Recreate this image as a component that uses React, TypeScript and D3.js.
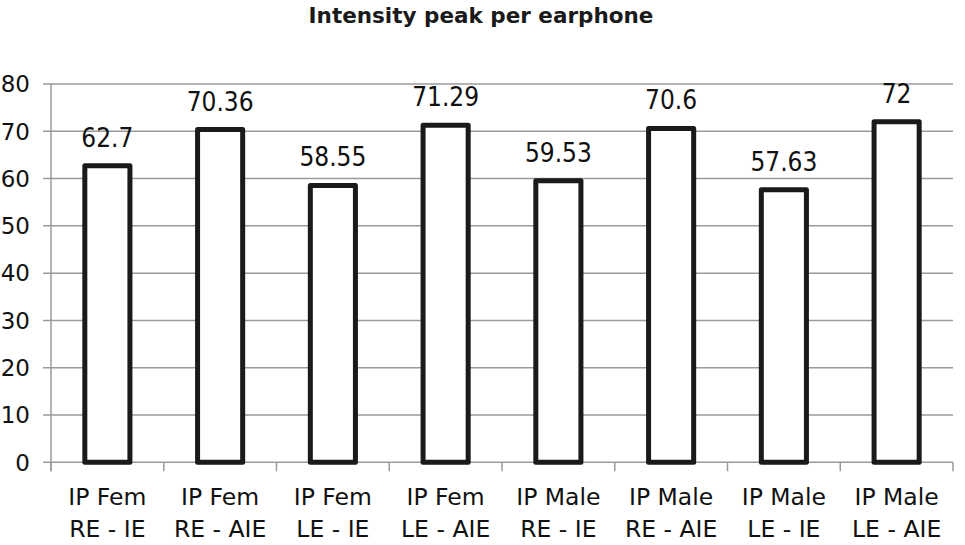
import React, { useEffect, useRef } from 'react';
import * as d3 from 'd3';

const categories = [
  ['IP Fem', 'RE - IE'],
  ['IP Fem', 'RE - AIE'],
  ['IP Fem', 'LE - IE'],
  ['IP Fem', 'LE - AIE'],
  ['IP Male', 'RE - IE'],
  ['IP Male', 'RE - AIE'],
  ['IP Male', 'LE - IE'],
  ['IP Male', 'LE - AIE'],
];
const values = [62.7, 70.36, 58.55, 71.29, 59.53, 70.6, 57.63, 72];
const valueLabels = ['62.7', '70.36', '58.55', '71.29', '59.53', '70.6', '57.63', '72'];
const yTicks = [0, 10, 20, 30, 40, 50, 60, 70, 80];
const title = 'Intensity peak per earphone';

const W = 965;
const H = 545;

const App = () => {
  const ref = useRef<SVGSVGElement>(null);

  useEffect(() => {
    document.body.style.margin = '0';
    drawChart(ref.current);
  }, []);

  return <svg ref={ref} width={W} height={H} style={{ display: 'block' }}></svg>;
};

const drawChart = (node: SVGSVGElement | null) => {
  if (!node) return;
  const svg = d3.select(node);
  svg.selectAll('*').remove();

  const font = "'DejaVu Sans', sans-serif";
  const grid = '#9a9a9a';

  // plot area
  const left = 51,
    right = 953,
    top = 84,
    bottom = 462.3;

  const x = d3
    .scaleBand<number>()
    .domain(d3.range(values.length))
    .range([left, right])
    .padding(0);

  const y = d3.scaleLinear().domain([0, 80]).range([bottom, top]);

  svg.append('rect').attr('width', W).attr('height', H).attr('fill', '#fff');

  // title
  svg
    .append('text')
    .attr('x', 481)
    .attr('y', 23)
    .attr('text-anchor', 'middle')
    .style('font-family', font)
    .style('font-weight', 'bold')
    .style('font-size', '21.5px')
    .attr('fill', '#1a1a1a')
    .text(title);

  // gridlines + y ticks
  svg
    .selectAll('line.grid')
    .data(yTicks)
    .enter()
    .append('line')
    .attr('class', 'grid')
    .attr('x1', left - 8)
    .attr('x2', right)
    .attr('y1', d => y(d))
    .attr('y2', d => y(d))
    .attr('stroke', grid)
    .attr('stroke-width', 1.5);

  svg
    .selectAll('text.ylab')
    .data(yTicks)
    .enter()
    .append('text')
    .attr('class', 'ylab')
    .attr('x', 30)
    .attr('y', d => y(d))
    .attr('dy', '0.36em')
    .attr('text-anchor', 'end')
    .style('font-family', font)
    .style('font-size', '23px')
    .attr('fill', '#111')
    .text(d => d);

  // y axis line
  svg
    .append('line')
    .attr('x1', left)
    .attr('x2', left)
    .attr('y1', top)
    .attr('y2', bottom + 9)
    .attr('stroke', grid)
    .attr('stroke-width', 1.5);

  // x tick marks at band edges
  const edges = d3.range(values.length + 1).map(i => left + i * x.bandwidth());
  svg
    .selectAll('line.xtick')
    .data(edges)
    .enter()
    .append('line')
    .attr('class', 'xtick')
    .attr('x1', d => d)
    .attr('x2', d => d)
    .attr('y1', bottom)
    .attr('y2', bottom + 9)
    .attr('stroke', grid)
    .attr('stroke-width', 1.5);

  // bars
  const barW = x.bandwidth() * 0.4;
  svg
    .selectAll('rect.bar')
    .data(values)
    .enter()
    .append('rect')
    .attr('class', 'bar')
    .attr('x', (d, i) => (x(i) as number) + x.bandwidth() / 2 - barW / 2)
    .attr('y', d => y(d))
    .attr('width', barW)
    .attr('height', d => bottom - y(d))
    .attr('fill', '#fff')
    .attr('stroke', '#1a1a1a')
    .attr('stroke-width', 5)
    .attr('stroke-linejoin', 'round');

  // value labels
  svg
    .selectAll('text.val')
    .data(values)
    .enter()
    .append('text')
    .attr('class', 'val')
    .attr('x', (d, i) => (x(i) as number) + x.bandwidth() / 2)
    .attr('y', d => y(d) - 19)
    .attr('text-anchor', 'middle')
    .style('font-family', "'DejaVu Sans Condensed', 'DejaVu Sans', sans-serif")
    .style('font-size', '26px')
    .attr('fill', '#111')
    .text((d, i) => valueLabels[i]);

  // category labels
  const cat = svg
    .selectAll('text.cat')
    .data(categories)
    .enter()
    .append('text')
    .attr('class', 'cat')
    .attr('text-anchor', 'middle')
    .style('font-family', font)
    .style('font-size', '23.5px')
    .attr('fill', '#111');

  cat
    .append('tspan')
    .attr('x', (d, i) => (x(i) as number) + x.bandwidth() / 2)
    .attr('y', 505)
    .text(d => d[0]);
  cat
    .append('tspan')
    .attr('x', (d, i) => (x(i) as number) + x.bandwidth() / 2)
    .attr('y', 537)
    .text(d => d[1]);
};

export default App;
